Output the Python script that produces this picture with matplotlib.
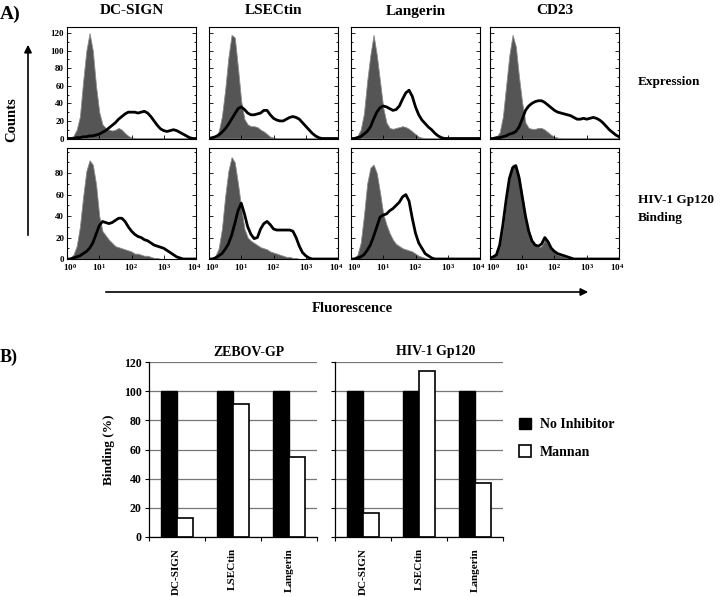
import numpy as np
import matplotlib
matplotlib.use("Agg")
import matplotlib.pyplot as plt
import matplotlib.patches as mpatches
from matplotlib.ticker import MultipleLocator, FixedLocator, NullFormatter
from matplotlib.transforms import ScaledTranslation

plt.rcParams['font.family'] = 'Liberation Serif'
plt.rcParams['font.weight'] = 'bold'
plt.rcParams['axes.labelweight'] = 'bold'
plt.rcParams['mathtext.fontset'] = 'custom'
plt.rcParams['mathtext.rm'] = 'Liberation Serif:bold'
plt.rcParams['mathtext.it'] = 'Liberation Serif:bold'
plt.rcParams['mathtext.bf'] = 'Liberation Serif:bold'

# ---- panel A data: histogram counts read at every 0.1 decade (10^0 .. 10^4)
decades = np.linspace(0, 4, 41)
markers = ['DC-SIGN', 'LSECtin', 'Langerin', 'CD23']
row_labels = ['Expression', 'HIV-1 Gp120\nBinding']
x_tick_labels = ['$10^{0}$', '$10^{1}$', '$10^{2}$', '$10^{3}$', '$10^{4}$']

# expression row: gray = control, black = stained
expr_gray = [
    [0, 1, 3, 10, 25, 65, 100, 120, 100, 60,
     30, 16, 12, 10, 9, 10, 12, 10, 6, 3,
     1, 0, 0, 0, 0, 0, 0, 0, 0, 0,
     0, 0, 0, 0, 0, 0, 0, 0, 0, 0, 0],
    [0, 1, 2, 8, 25, 55, 92, 118, 115, 80,
     42, 22, 16, 14, 14, 13, 10, 8, 5, 2,
     1, 0, 0, 0, 0, 0, 0, 0, 0, 0,
     0, 0, 0, 0, 0, 0, 0, 0, 0, 0, 0],
    [0, 1, 3, 10, 28, 65, 95, 118, 95, 65,
     35, 18, 12, 11, 12, 13, 14, 13, 11, 8,
     5, 2, 1, 0, 0, 0, 0, 0, 0, 0,
     0, 0, 0, 0, 0, 0, 0, 0, 0, 0, 0],
    [0, 1, 2, 7, 25, 60, 95, 118, 105, 70,
     40, 18, 12, 11, 11, 12, 12, 10, 7, 4,
     2, 1, 0, 0, 0, 0, 0, 0, 0, 0,
     0, 0, 0, 0, 0, 0, 0, 0, 0, 0, 0],
]
expr_black = [
    [0, 0, 0, 1, 1, 2, 2, 3, 3, 4,
     5, 7, 9, 12, 15, 18, 22, 25, 28, 30,
     30, 30, 29, 30, 31, 29, 25, 20, 15, 11,
     9, 8, 9, 10, 9, 7, 5, 3, 1, 0, 0],
    [0, 1, 2, 4, 7, 11, 16, 22, 28, 34,
     36, 33, 29, 27, 27, 28, 29, 32, 32, 27,
     23, 21, 20, 20, 22, 24, 25, 24, 22, 18,
     14, 10, 6, 3, 1, 0, 0, 0, 0, 0, 0],
    [0, 0, 1, 2, 5, 8, 13, 22, 30, 35,
     37, 36, 34, 32, 33, 37, 45, 52, 55, 48,
     36, 27, 21, 17, 13, 10, 6, 3, 1, 0,
     0, 0, 0, 0, 0, 0, 0, 0, 0, 0, 0],
    [0, 0, 1, 1, 2, 3, 5, 6, 8, 13,
     22, 32, 37, 40, 42, 43, 43, 41, 38, 35,
     32, 30, 29, 28, 27, 26, 24, 22, 22, 23,
     22, 23, 24, 23, 21, 18, 14, 10, 7, 4, 2],
]
# gp120 binding row
bind_gray = [
    [0, 1, 4, 12, 30, 58, 82, 92, 88, 70,
     40, 26, 22, 18, 15, 12, 11, 10, 9, 8,
     7, 5, 5, 4, 3, 3, 2, 1, 1, 0,
     0, 0, 0, 0, 0, 0, 0, 0, 0, 0, 0],
    [0, 1, 3, 10, 28, 58, 82, 95, 90, 70,
     48, 28, 20, 17, 15, 13, 11, 10, 9, 7,
     6, 5, 4, 3, 2, 2, 1, 1, 0, 0,
     0, 0, 0, 0, 0, 0, 0, 0, 0, 0, 0],
    [0, 1, 4, 15, 40, 70, 85, 88, 80, 62,
     42, 32, 24, 18, 14, 12, 10, 9, 8, 7,
     5, 3, 2, 1, 0, 0, 0, 0, 0, 0,
     0, 0, 0, 0, 0, 0, 0, 0, 0, 0, 0],
    [0, 2, 5, 12, 28, 52, 76, 88, 88, 78,
     60, 40, 24, 16, 13, 11, 12, 18, 14, 9,
     6, 4, 3, 2, 1, 1, 0, 0, 0, 0,
     0, 0, 0, 0, 0, 0, 0, 0, 0, 0, 0],
]
bind_black = [
    [0, 0, 1, 2, 3, 5, 7, 10, 15, 23,
     31, 35, 34, 33, 34, 36, 38, 38, 35, 30,
     26, 23, 21, 20, 18, 17, 15, 13, 12, 11,
     10, 8, 6, 4, 2, 1, 0, 0, 0, 0, 0],
    [0, 0, 1, 3, 5, 9, 14, 22, 33, 45,
     52, 42, 30, 23, 19, 20, 28, 33, 35, 32,
     28, 27, 27, 27, 27, 27, 26, 20, 12, 6,
     3, 1, 0, 0, 0, 0, 0, 0, 0, 0, 0],
    [0, 0, 1, 2, 4, 8, 13, 21, 30, 39,
     41, 42, 45, 47, 50, 53, 58, 60, 54, 38,
     24, 15, 10, 5, 3, 1, 0, 0, 0, 0,
     0, 0, 0, 0, 0, 0, 0, 0, 0, 0, 0],
    [1, 2, 4, 13, 32, 55, 75, 85, 87, 76,
     58, 40, 26, 17, 13, 12, 14, 20, 16, 10,
     7, 5, 4, 3, 2, 1, 0, 0, 0, 0,
     0, 0, 0, 0, 0, 0, 0, 0, 0, 0, 0],
]

# ---- panel B data
lectins = ['DC-SIGN', 'LSECtin', 'Langerin']
ligands = ['ZEBOV-GP', 'HIV-1 Gp120']
no_inhibitor = [[100, 100, 100], [100, 100, 100]]
mannan = [[13, 91, 55], [16, 114, 37]]

W, H = 722, 597
fig = plt.figure(figsize=(W / 100, H / 100), dpi=100)


def px(x, y):
    return x / W, 1 - y / H


def rect(x0, y0, x1, y1):
    return [x0 / W, 1 - y1 / H, (x1 - x0) / W, (y1 - y0) / H]


col_left = [67, 209, 351, 490]
col_w = 129
rows = [(27, 138.5, 127, 120, expr_gray, expr_black),
        (148.5, 259, 103, 80, bind_gray, bind_black)]
xs = 10 ** decades

for r, (top, bot, ymax, ylabmax, grays, blacks) in enumerate(rows):
    for c in range(4):
        ax = fig.add_axes(rect(col_left[c], top, col_left[c] + col_w, bot))
        ax.fill_between(xs, 0, grays[c], color='#555555', edgecolor='#8c8c8c',
                        lw=0.6, zorder=1)
        ax.plot(xs, blacks[c], color='black', lw=2.0, zorder=2)
        ax.set_xscale('log')
        ax.set_xlim(1, 1e4)
        ax.set_ylim(0, ymax)
        ax.yaxis.set_major_locator(FixedLocator(np.arange(0, ylabmax + 1, 20)))
        ax.yaxis.set_minor_locator(MultipleLocator(10))
        ax.tick_params(axis='both', which='both', direction='in', labelsize=6.5,
                       pad=2, width=0.6)
        ax.tick_params(axis='y', which='major', length=3, right=True)
        ax.tick_params(axis='y', which='minor', length=1.5, right=True)
        ax.tick_params(axis='x', which='major', length=3, labelsize=6.6)
        ax.tick_params(axis='x', which='minor', length=1.5)
        ax.set_xticks([1, 10, 100, 1000, 10000])
        ax.xaxis.set_minor_formatter(NullFormatter())
        if r == 1:
            ax.set_xticklabels(x_tick_labels)
            labs = ax.get_xticklabels()
            labs[0].set_transform(labs[0].get_transform() +
                                  ScaledTranslation(2.5 / 72, 0, fig.dpi_scale_trans))
            labs[-1].set_transform(labs[-1].get_transform() +
                                   ScaledTranslation(-1.5 / 72, 0, fig.dpi_scale_trans))
        else:
            ax.set_xticklabels([])
        if c != 0:
            ax.set_yticklabels([])
        for s in ax.spines.values():
            s.set_linewidth(0.8)
        if r == 0:
            fig.text(*px(col_left[c] + col_w / 2, 11), markers[c], ha='center',
                     va='center', fontsize=11)

fig.text(*px(0, 14), 'A)', ha='left', va='center', fontsize=14)
fig.text(*px(638, 82), row_labels[0], ha='left', va='center', fontsize=9.5)
fig.text(*px(638, 209), row_labels[1], ha='left', va='center', fontsize=9.5,
         linespacing=1.6)
fig.text(*px(12, 120), 'Counts', ha='center', va='center', rotation=90,
         fontsize=10.5)
fig.text(*px(352, 309), 'Fluorescence', ha='center', va='center', fontsize=10.5)

fig.add_artist(mpatches.FancyArrowPatch(px(28, 238), px(28, 42),
                                        transform=fig.transFigure,
                                        arrowstyle='-|>', mutation_scale=11,
                                        lw=1.2, color='black'))
fig.add_artist(mpatches.FancyArrowPatch(px(103, 292), px(591, 292),
                                        transform=fig.transFigure,
                                        arrowstyle='-|>', mutation_scale=11,
                                        lw=1.2, color='black'))

# ---- panel B
bar_left = [148.5, 335]
bar_w = 168.4
xpos = np.arange(len(lectins))
bw = 0.285
for i in range(2):
    ax = fig.add_axes(rect(bar_left[i], 362.3, bar_left[i] + bar_w, 536.7))
    ax.set_axisbelow(True)
    ax.yaxis.grid(True, color='#777777', lw=0.9)
    ax.bar(xpos - bw / 2, no_inhibitor[i], bw, color='black', edgecolor='black',
           lw=1.0, label='No Inhibitor')
    ax.bar(xpos + bw / 2, mannan[i], bw, color='white', edgecolor='black',
           lw=1.2, label='Mannan')
    ax.set_xlim(-0.5, 2.5)
    ax.set_ylim(0, 120)
    ax.set_yticks(np.arange(0, 121, 20))
    ax.set_xticks([-0.5, 0.5, 1.5, 2.5])
    ax.set_xticklabels([])
    ax.set_xticks(xpos, minor=True)
    ax.set_xticklabels(lectins, minor=True, rotation=90, fontsize=8)
    ax.tick_params(axis='x', which='minor', length=0, pad=8)
    ax.tick_params(axis='x', which='major', length=3, width=0.8)
    ax.tick_params(axis='y', length=3, width=0.8, labelsize=8.5, pad=2)
    for s in ['top', 'right']:
        ax.spines[s].set_visible(False)
    ax.spines['left'].set_linewidth(0.9)
    ax.spines['bottom'].set_linewidth(0.9)
    if i == 1:
        ax.set_yticklabels([])
        handles, labels = ax.get_legend_handles_labels()
    else:
        ax.set_ylabel('Binding (%)', fontsize=9.5, labelpad=6)
    fig.text(*px(bar_left[i] + bar_w / 2 + 16, 352), ligands[i], ha='center',
             va='center', fontsize=10)

fig.legend(handles, labels, loc='upper left', bbox_to_anchor=px(512, 411),
           frameon=False, fontsize=10, handlelength=0.9, handleheight=0.9,
           handletextpad=0.6, labelspacing=1.0, borderpad=0)
fig.text(*px(0, 357), 'B)', ha='left', va='center', fontsize=13)

fig.savefig('out.png', dpi=100)
